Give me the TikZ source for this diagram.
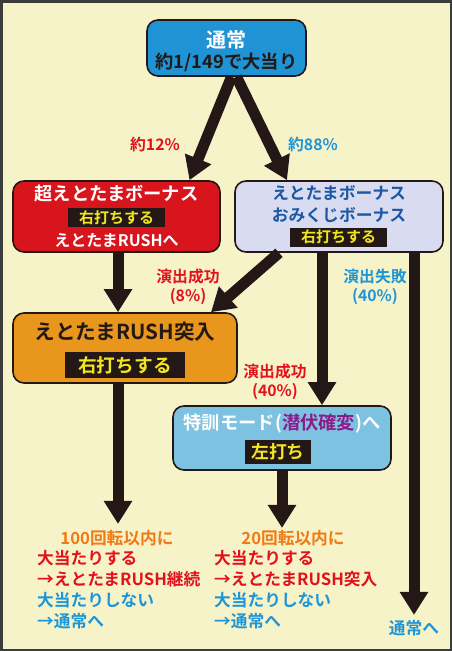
\documentclass[tikz,border=0pt]{standalone}
\usepackage{fontspec}
\setmainfont{Noto Sans CJK JP}[BoldFont={Noto Sans CJK JP Bold}]
\usetikzlibrary{arrows.meta}
\definecolor{bg}{HTML}{F6F3C9}
\definecolor{frame}{HTML}{3C3C3C}
\definecolor{ink}{HTML}{231815}
\definecolor{tsujoblue}{HTML}{1F93D3}
\definecolor{boxred}{HTML}{D8141C}
\definecolor{boxlav}{HTML}{D9DBF0}
\definecolor{boxorange}{HTML}{E8961C}
\definecolor{boxsky}{HTML}{7DC2E0}
\definecolor{darkblue}{HTML}{1D58A6}
\definecolor{lblue}{HTML}{1E95D6}
\definecolor{tred}{HTML}{E2121C}
\definecolor{torange}{HTML}{F07A14}
\definecolor{tpurple}{HTML}{8A1C8A}
\definecolor{tyellow}{HTML}{F2E61E}
\begin{document}
\begin{tikzpicture}[x=1pt,y=-1pt,
  box/.style={draw=ink, line width=1.6pt, rounded corners=11pt, inner sep=0pt},
  tbig/.style={inner sep=1pt, font=\bfseries\fontsize{16.8}{20}\selectfont},
  tmid/.style={inner sep=1pt, font=\bfseries\fontsize{16.7}{19}\selectfont},
  tlab/.style={inner sep=1pt, font=\bfseries\fontsize{15.8}{19}\selectfont},
  tag/.style={fill=ink, text=tyellow, inner sep=0pt, font=\bfseries\fontsize{15}{17}\selectfont},
  arr/.style={draw=ink, line width=11pt, -{Triangle[length=23pt,width=27pt]}}]
\useasboundingbox (0,0) rectangle (452,651);
\fill[bg] (0,0) rectangle (452,651);
\draw[frame, line width=2.5pt] (1.25,1.25) rectangle (450.75,649.75);

% boxes
\node[box, fill=tsujoblue, minimum width=159pt, minimum height=56pt] (tsujo) at (226.5,48) {};
\node[inner sep=1pt, text=white, font=\bfseries\fontsize{20}{22}\selectfont] (tsujoA) at (226.5,40) {通常};
\node[inner sep=1pt, text=ink, font=\bfseries\fontsize{18.3}{21}\selectfont] (tsujoB) at (226.5,62) {約1/149で大当り};

\node[box, fill=boxred, minimum width=207pt, minimum height=71pt] (red) at (116.5,216.5) {};
\node[inner sep=1pt, text=white, font=\bfseries\fontsize{18.3}{21}\selectfont] (redA) at (116.5,194) {超えとたまボーナス};
\node[tag, minimum width=97pt, minimum height=19pt] (redT) at (116.5,217.5) {右打ちする};
\node[inner sep=1pt, text=white, font=\bfseries\fontsize{16}{19}\selectfont] (redB) at (116.5,240) {えとたまRUSHへ};

\node[box, fill=boxlav, minimum width=208pt, minimum height=71pt] (lav) at (339,216.5) {};
\node[tbig, text=darkblue] (lavA) at (339,193) {えとたまボーナス};
\node[tbig, text=darkblue] (lavB) at (339,215) {おみくじボーナス};
\node[tag, minimum width=97pt, minimum height=19pt] (lavT) at (338.5,237) {右打ちする};

\node[box, fill=boxorange, minimum width=224pt, minimum height=70pt] (orange) at (125,348) {};
\node[inner sep=1pt, text=ink, font=\bfseries\fontsize{20.6}{23}\selectfont] (orangeA) at (125,332) {えとたまRUSH突入};
\node[tag, minimum width=120pt, minimum height=26pt, font=\bfseries\fontsize{18.7}{21}\selectfont] (orangeT) at (125,365) {右打ちする};

\node[box, fill=boxsky, minimum width=218pt, minimum height=64pt] (kunren) at (282,438) {};
\node[inner sep=1pt, text=white, font=\bfseries\fontsize{18.3}{21}\selectfont] (kunrenA) at (282,424) {特訓モード(\textcolor{tpurple}{潜伏確変})へ};
\node[tag, minimum width=66pt, minimum height=24pt, font=\bfseries\fontsize{17.8}{20}\selectfont] (kunrenT) at (278,452) {左打ち};

% bottom texts
\node[tmid, text=torange] (l0) at (117,538) {100回転以内に};
\node[tmid, text=tred, anchor=west] (l1) at (36,558) {大当たりする};
\node[tmid, text=tred, anchor=west] (l2) at (36,579) {→えとたまRUSH継続};
\node[tmid, text=lblue, anchor=west] (l3) at (36,600) {大当たりしない};
\node[tmid, text=lblue, anchor=west] (l4) at (36,621) {→通常へ};

\node[tmid, text=torange] (r0) at (293,538) {20回転以内に};
\node[tmid, text=tred, anchor=west] (r1) at (213,558) {大当たりする};
\node[tmid, text=tred, anchor=west] (r2) at (213,579) {→えとたまRUSH突入};
\node[tmid, text=lblue, anchor=west] (r3) at (213,600) {大当たりしない};
\node[tmid, text=lblue, anchor=west] (r4) at (213,621) {→通常へ};

\node[tmid, text=lblue] (ret) at (414,628) {通常へ};

% arrow labels
\node[tlab, text=tred] (p12) at (155,144) {約12\%};
\node[tlab, text=lblue] (p88) at (313,144) {約88\%};
\node[tlab, text=tred, align=center] (s8) at (188,287) {演出成功\\(8\%)};
\node[tlab, text=lblue, align=center] (f40) at (375,287) {演出失敗\\(40\%)};
\node[tlab, text=tred, align=center] (s40) at (275,382) {演出成功\\(40\%)};

% arrows
\draw[arr] ([xshift=5pt]tsujo.south) -- ([xshift=73pt]red.north);
\draw[arr] ([xshift=10pt]tsujo.south) -- ([xshift=-52pt]lav.north);
\draw[arr] ([xshift=1.5pt]red.south) -- ([xshift=-7pt]orange.north);
\draw[arr] ([xshift=-60pt]lav.south) -- ([xshift=86pt]orange.north);
\draw[arr] ([xshift=-17pt]lav.south) -- ([xshift=40pt]kunren.north);
\draw[arr, shorten >=4pt] (lav.south -| ret.north) -- (ret.north);
\draw[arr, shorten >=5pt] ([xshift=-7pt]orange.south) -- ([xshift=-7pt]orange.south |- l0.north);
\draw[arr, shorten >=1pt] (kunren.south) -- (kunren.south |- r0.north);
\end{tikzpicture}
\end{document}
